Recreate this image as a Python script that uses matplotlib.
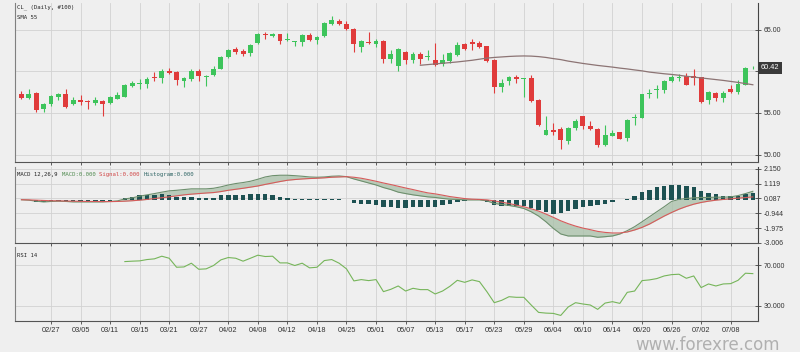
import matplotlib
matplotlib.use("Agg")
import matplotlib.pyplot as plt

# ---------------- data ----------------
opens = [57.24, 56.80, 57.40, 55.44, 56.04, 56.92, 57.24, 56.04, 56.52, 56.44,
         56.24, 56.48, 56.20, 56.72, 56.96, 58.24, 58.48, 58.48, 59.32, 59.20,
         60.04, 59.92, 58.80, 59.04, 60.04, 59.36, 59.52, 60.32, 61.68, 62.64,
         62.48, 62.16, 63.40, 64.44, 64.20, 64.48, 63.72, 63.52, 63.48, 64.32,
         63.80, 64.28, 65.68, 66.08, 65.68, 65.12, 62.92, 63.56, 63.28, 63.64,
         61.44, 60.64, 62.36, 61.36, 62.04, 61.72, 61.36, 60.84, 61.28, 62.00,
         63.24, 63.56, 63.36, 63.00, 61.36, 58.16, 58.80, 59.28, 59.08, 59.20,
         56.56, 52.40, 52.92, 53.08, 51.64, 53.20, 54.60, 53.48, 53.12, 51.12,
         52.28, 52.68, 52.04, 54.40, 54.44, 57.28, 57.72, 57.76, 58.80, 59.24,
         59.44, 59.40, 59.28, 56.56, 57.44, 56.80, 57.84, 57.52, 58.40, 60.36]
highs = [57.64, 57.84, 57.48, 56.16, 57.16, 57.40, 57.88, 56.92, 57.20, 56.56,
         56.92, 56.56, 57.00, 57.56, 58.52, 58.84, 59.12, 59.28, 59.88, 60.24,
         60.44, 60.04, 59.36, 60.28, 60.24, 59.56, 60.68, 61.88, 62.68, 62.96,
         62.72, 63.24, 64.56, 64.72, 64.60, 64.48, 64.56, 63.68, 64.48, 64.60,
         64.20, 65.92, 66.64, 66.28, 66.04, 65.20, 63.72, 64.72, 63.84, 63.72,
         62.52, 62.76, 62.44, 62.32, 62.28, 62.52, 63.36, 62.04, 62.28, 63.52,
         63.40, 63.92, 63.68, 63.08, 61.44, 59.04, 59.44, 59.52, 59.16, 59.60,
         56.64, 54.68, 53.84, 53.32, 53.28, 54.28, 54.68, 54.08, 53.20, 53.52,
         52.92, 52.76, 54.24, 54.88, 57.32, 57.92, 58.32, 58.96, 59.60, 59.68,
         59.84, 60.28, 59.36, 57.60, 57.52, 57.60, 58.40, 58.96, 60.48, 60.60]
lows = [56.68, 56.68, 55.16, 55.08, 55.84, 56.56, 55.64, 55.92, 55.96, 55.44,
        55.96, 54.60, 56.08, 56.64, 56.88, 58.08, 57.84, 58.04, 58.88, 58.64,
        59.68, 58.36, 58.16, 58.88, 58.84, 58.24, 59.44, 60.24, 61.60, 62.04,
        61.88, 61.88, 63.28, 63.84, 64.12, 63.32, 63.64, 63.00, 63.04, 63.60,
        63.32, 64.16, 65.60, 65.56, 64.96, 62.28, 62.36, 63.24, 62.92, 60.96,
        61.04, 60.04, 60.88, 60.96, 60.84, 61.36, 60.64, 60.64, 61.00, 61.88,
        62.52, 62.56, 62.80, 61.08, 57.36, 57.48, 58.40, 58.60, 56.96, 56.32,
        53.44, 52.32, 52.40, 50.64, 51.32, 52.92, 53.12, 53.00, 50.92, 51.04,
        52.20, 51.84, 51.60, 53.56, 54.36, 56.76, 56.76, 57.36, 58.68, 58.80,
        58.36, 58.32, 56.16, 56.08, 56.48, 56.32, 57.40, 57.32, 58.32, 60.32]
closes = [56.84, 57.24, 55.36, 56.08, 57.00, 57.32, 55.76, 56.52, 56.36, 56.32,
          56.56, 56.12, 56.92, 57.16, 58.40, 58.60, 58.60, 59.12, 59.20, 60.08,
          59.80, 59.00, 59.20, 60.04, 59.40, 59.48, 60.24, 61.76, 62.56, 62.36,
          62.04, 63.12, 64.48, 64.32, 64.52, 63.68, 63.88, 63.68, 64.36, 63.72,
          64.12, 65.76, 66.12, 65.72, 65.04, 63.28, 63.64, 63.36, 63.68, 61.52,
          62.04, 62.68, 61.36, 62.04, 61.52, 61.84, 60.80, 61.40, 62.16, 63.20,
          62.72, 63.28, 62.92, 61.24, 58.16, 58.64, 59.28, 59.08, 59.16, 56.40,
          53.52, 52.92, 52.76, 51.80, 53.20, 54.00, 53.44, 53.12, 51.12, 52.32,
          52.60, 51.92, 54.12, 54.56, 57.24, 57.44, 57.92, 58.84, 59.28, 59.36,
          58.40, 59.20, 56.32, 57.48, 56.80, 57.40, 57.48, 58.44, 60.36, 60.42]

sma_start = 54
sma55 = [60.72, 60.80, 60.88, 60.96, 61.04, 61.12, 61.22, 61.32, 61.45, 61.58,
         61.66, 61.72, 61.78, 61.82, 61.84, 61.82, 61.76, 61.66, 61.52, 61.40,
         61.22, 61.08, 60.94, 60.82, 60.70, 60.60, 60.50, 60.38, 60.28, 60.16,
         60.05, 59.90, 59.80, 59.70, 59.62, 59.52, 59.40, 59.30, 59.20, 59.10,
         59.00, 58.90, 58.78, 58.66, 58.52, 58.38]

macd_line = [0.00, -0.03, -0.10, -0.15, -0.12, -0.10, -0.12, -0.15, -0.15, -0.15,
             -0.15, -0.15, -0.12, -0.08, 0.06, 0.13, 0.25, 0.34, 0.43, 0.53,
             0.62, 0.66, 0.71, 0.76, 0.76, 0.76, 0.80, 0.90, 1.03, 1.13,
             1.20, 1.29, 1.43, 1.59, 1.68, 1.71, 1.71, 1.68, 1.64, 1.59,
             1.57, 1.59, 1.64, 1.66, 1.61, 1.45, 1.31, 1.17, 1.03, 0.85,
             0.71, 0.53, 0.43, 0.34, 0.27, 0.20, 0.16, 0.09, 0.04, 0.02,
             -0.01, -0.01, -0.01, -0.08, -0.26, -0.33, -0.40, -0.49, -0.61, -0.84,
             -1.14, -1.54, -2.00, -2.39, -2.53, -2.53, -2.53, -2.53, -2.62, -2.58,
             -2.53, -2.39, -2.16, -1.88, -1.54, -1.19, -0.84, -0.49, -0.12, 0.02,
             0.09, 0.13, 0.16, 0.16, 0.18, 0.18, 0.20, 0.29, 0.43, 0.59]
signal_line = [0.00, -0.01, -0.03, -0.05, -0.07, -0.08, -0.09, -0.10, -0.11, -0.12,
               -0.12, -0.13, -0.13, -0.12, -0.10, -0.07, -0.03, 0.02, 0.08, 0.14,
               0.20, 0.27, 0.34, 0.39, 0.43, 0.47, 0.50, 0.57, 0.66, 0.73,
               0.80, 0.88, 0.96, 1.07, 1.17, 1.27, 1.36, 1.41, 1.45, 1.48,
               1.50, 1.53, 1.57, 1.59, 1.61, 1.57, 1.50, 1.40, 1.29, 1.17,
               1.06, 0.94, 0.82, 0.71, 0.59, 0.48, 0.41, 0.32, 0.22, 0.15,
               0.08, 0.04, 0.02, -0.01, -0.08, -0.17, -0.26, -0.38, -0.49, -0.63,
               -0.79, -1.00, -1.23, -1.47, -1.67, -1.84, -1.98, -2.09, -2.21, -2.28,
               -2.32, -2.32, -2.25, -2.11, -1.93, -1.70, -1.42, -1.14, -0.89, -0.66,
               -0.47, -0.31, -0.19, -0.10, -0.03, 0.02, 0.06, 0.11, 0.15, 0.20]
histogram = [-0.03, -0.05, -0.16, -0.14, -0.10, -0.08, -0.10, -0.10, -0.10, -0.10,
             -0.10, -0.10, -0.08, -0.05, 0.15, 0.20, 0.30, 0.35, 0.35, 0.37,
             0.35, 0.20, 0.16, 0.16, 0.12, 0.09, 0.14, 0.30, 0.35, 0.35,
             0.35, 0.37, 0.42, 0.40, 0.30, 0.16, 0.10, 0.05, 0.03, 0.03,
             0.02, 0.02, 0.02, 0.02, -0.02, -0.25, -0.30, -0.32, -0.35, -0.53,
             -0.53, -0.58, -0.58, -0.53, -0.51, -0.49, -0.49, -0.39, -0.28, -0.16,
             -0.09, -0.04, 0.02, -0.14, -0.39, -0.46, -0.46, -0.42, -0.46, -0.58,
             -0.69, -0.88, -0.97, -0.93, -0.81, -0.65, -0.53, -0.42, -0.39, -0.28,
             -0.19, -0.05, 0.05, 0.23, 0.53, 0.69, 0.88, 0.97, 1.04, 1.02,
             0.93, 0.88, 0.58, 0.46, 0.37, 0.28, 0.28, 0.28, 0.37, 0.46]

rsi_start = 14
rsi14 = [73.6, 74.0, 74.3, 75.6, 76.3, 78.9, 76.9, 68.0, 68.3, 72.0,
         66.0, 66.4, 69.7, 75.3, 77.6, 76.9, 74.0, 76.9, 79.9, 78.6,
         78.9, 72.3, 72.3, 69.7, 72.0, 67.4, 68.0, 74.6, 75.6, 72.0,
         66.4, 54.5, 55.8, 54.8, 55.8, 43.9, 46.2, 49.5, 44.5, 47.2,
         45.9, 45.9, 41.6, 44.5, 49.2, 55.1, 53.1, 55.5, 53.8, 43.9,
         33.0, 35.3, 38.9, 38.3, 38.3, 30.7, 23.4, 22.7, 22.4, 20.4,
         28.7, 33.0, 31.7, 30.7, 26.4, 32.6, 34.0, 32.3, 43.2, 44.5,
         54.8, 55.5, 56.8, 59.4, 60.7, 61.1, 57.1, 59.4, 47.9, 51.5,
         49.5, 51.5, 51.8, 55.1, 62.1, 61.7]

tick_labels = ["02/27", "03/05", "03/11", "03/15", "03/21", "03/27", "04/02", "04/08",
               "04/12", "04/18", "04/25", "05/01", "05/07", "05/13", "05/17", "05/23",
               "05/29", "06/04", "06/10", "06/14", "06/20", "06/26", "07/02", "07/08"]
price_ticks = [50.0, 55.0, 60.0, 65.0]
macd_ticks = [2.150, 1.119, 0.087, -0.944, -1.975, -3.006]
rsi_ticks = [30.0, 70.0]
last_price = 60.42

# ---------------- styling ----------------
BG = "#efefef"
UP = "#3dc45b"
DOWN = "#e03b3b"
GRID = "#d2d2d2"
SPINE = "#555555"
TXT = "#333333"
MONO = "DejaVu Sans Mono"
SANS = "Liberation Sans"

W, H = 800, 352
fig = plt.figure(figsize=(W / 100, H / 100), dpi=100, facecolor=BG)

def px_axes(top, bottom):
    return fig.add_axes([15 / W, 1 - bottom / H, 743 / W, (bottom - top) / H])

ax1 = px_axes(3, 162)
ax2 = px_axes(166.5, 243)
ax3 = px_axes(247, 321)

n = len(closes)
x = list(range(n))
tick_pos = [4 + 4 * k for k in range(len(tick_labels))]

for ax in (ax1, ax2, ax3):
    ax.set_facecolor(BG)
    ax.set_xlim(-0.87, 99.7)
    ax.set_xticks(tick_pos)
    ax.grid(True, color=GRID, linewidth=0.6)
    ax.set_axisbelow(True)
    ax.spines["top"].set_visible(False)
    ax.spines["left"].set_color("#808080")
    ax.spines["bottom"].set_color(SPINE)
    ax.spines["right"].set_color("#444444")
    for s in ("left", "bottom", "right"):
        ax.spines[s].set_linewidth(0.8)
    ax.yaxis.tick_right()
    ax.tick_params(axis="y", direction="inout", length=5, width=0.6, colors="#444444",
                   labelsize=5, labelcolor=TXT, pad=1.5)
    ax.tick_params(axis="x", direction="out", length=2.5, width=0.6, colors="#444444",
                   labelsize=5.3, labelcolor=TXT, pad=1.5)
    for lab in ax.get_yticklabels() + ax.get_xticklabels():
        lab.set_family(SANS)

ax1.tick_params(axis="x", labelbottom=False)
ax2.tick_params(axis="x", labelbottom=False)

# ---------------- price panel ----------------
body_w = 0.66
for i in x:
    o, h, l, c = opens[i], highs[i], lows[i], closes[i]
    col = UP if c >= o else DOWN
    ax1.vlines(i, l, h, color=col, linewidth=0.8, zorder=2)
    lo, hi = min(o, c), max(o, c)
    ax1.bar(i, max(hi - lo, 0.08), bottom=lo, width=body_w, color=col,
            linewidth=0, zorder=3)

sma_x = list(range(sma_start, sma_start + len(sma55)))
ax1.plot(sma_x, sma55, color="#8c7474", linewidth=0.9, zorder=4)

ax1.set_ylim(49.1, 68.2)
ax1.set_yticks(price_ticks)
ax1.set_yticklabels([f"{v:.2f}" for v in price_ticks])

# last-price badge drawn in figure space so that it covers the 60.00 tick label
badge_y = ax1.transData.transform((0, last_price))[1] / H
fig.text(761 / W, badge_y, f"{last_price:.2f}", fontsize=5.3, color="white",
         family=SANS, va="center", ha="left", zorder=10,
         bbox=dict(boxstyle="square,pad=0.35", fc="#3a3a3a", ec="none"))

MFS = 4.1
fig.text(17 / W, 1 - 7.5 / H, "CL_ (Daily, #100)", fontsize=MFS, family=MONO,
         color="#222222", va="center", ha="left")
fig.text(17 / W, 1 - 17.5 / H, "SMA 55", fontsize=MFS, family=MONO,
         color="#222222", va="center", ha="left")

# ---------------- MACD panel ----------------
ax2.fill_between(x, macd_line, signal_line, color="#a8c0a8", alpha=0.75, linewidth=0, zorder=2)
ax2.bar(x, histogram, width=0.6, color="#1d5152", linewidth=0, zorder=3)
ax2.plot(x, macd_line, color="#6d8f6d", linewidth=0.8, zorder=4)
ax2.plot(x, signal_line, color="#d65a5a", linewidth=0.8, zorder=4)
ax2.set_ylim(-3.02, 2.32)
ax2.set_yticks(macd_ticks)
ax2.set_yticklabels([f"{v:.3f}" for v in macd_ticks])

char_px = 0.602 * MFS * 100 / 72
parts = [("MACD 12,26,9 ", "#222222"), ("MACD:0.000 ", "#4f8a4f"),
         ("Signal:0.000 ", "#d04545"), ("Histogram:0.000", "#2e6464")]
cx = 17
for s, col in parts:
    fig.text(cx / W, 1 - 174.7 / H, s, fontsize=MFS, family=MONO, color=col,
             va="center", ha="left")
    cx += len(s) * char_px

# ---------------- RSI panel ----------------
rsi_x = list(range(rsi_start, rsi_start + len(rsi14)))
ax3.plot(rsi_x, rsi14, color="#76b55a", linewidth=0.8)
ax3.set_ylim(14.9, 88)
ax3.set_yticks(rsi_ticks)
ax3.set_yticklabels([f"{v:.3f}" for v in rsi_ticks])
ax3.set_xticklabels(tick_labels)
fig.text(17 / W, 1 - 255.3 / H, "RSI 14", fontsize=MFS, family=MONO,
         color="#222222", va="center", ha="left")

# watermark
fig.text(708 / W, 1 - 349.5 / H, "www.forexre.com", fontsize=12, color="#b0b0b0",
         family="DejaVu Sans", ha="center", va="baseline")

fig.savefig("out.png", dpi=100, facecolor=BG)
